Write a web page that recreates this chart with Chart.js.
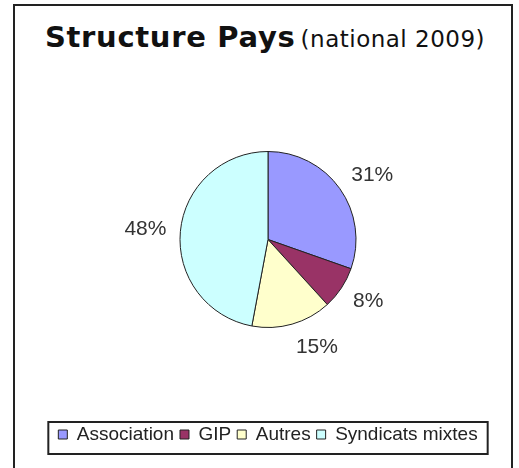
<!DOCTYPE html>
<html>
<head>
<meta charset="utf-8">
<script src="https://cdn.jsdelivr.net/npm/chart.js@4.4.0/dist/chart.umd.min.js"></script>
<style>
  html, body { margin: 0; padding: 0; background: #fff; overflow: hidden; }
  #frame { position: absolute; left: 13px; top: 4px; width: 500px; height: 480px; border: 2px solid #222; box-sizing: border-box; }
  #title { position: absolute; left: 0; top: 20px; width: 530px; text-align: center; white-space: nowrap; color: #111; font-family: "DejaVu Sans", Verdana, sans-serif; }
  #title b { font-size: 29px; letter-spacing: 0.7px; }
  #title span { font-size: 23px; letter-spacing: 0.5px; }
  #myChart { position: absolute; left: 0; top: 0; }
</style>
</head>
<body>
<div id="frame"></div>
<div id="title"><b>Structure Pays</b> <span>(national 2009)</span></div>
<canvas id="myChart" width="519" height="468"></canvas>
<script>
// Données
var categories = ['Association', 'GIP', 'Autres', 'Syndicats mixtes'];
var values = [31, 8, 15, 48];
var percentLabels = ['31%', '8%', '15%', '48%'];
var colors = ['#9999FF', '#993366', '#FFFFCC', '#CCFFFF'];

// Étiquettes de pourcentage autour du camembert
var pctLabels = {
    id: 'pctLabels',
    afterDatasetsDraw: function (chart) {
        var ctx = chart.ctx;
        var meta = chart.getDatasetMeta(0);
        ctx.save();
        ctx.font = '21px "Liberation Sans", Arial, sans-serif';
        ctx.fillStyle = '#333';
        ctx.textAlign = 'center';
        ctx.textBaseline = 'middle';
        meta.data.forEach(function (arc, i) {
            var p = arc.getProps(['x', 'y', 'startAngle', 'endAngle', 'outerRadius'], true);
            var mid = (p.startAngle + p.endAngle) / 2;
            var d = p.outerRadius + 14;
            var hw = ctx.measureText(percentLabels[i]).width / 2;
            var cx = p.x + Math.cos(mid) * d + hw * Math.sign(Math.cos(mid));
            var cy = p.y + Math.sin(mid) * d + 10 * Math.sin(mid);
            ctx.fillText(percentLabels[i], cx, cy);
        });
        ctx.restore();
    }
};

// Cadre autour de la légende
var legendBox = {
    id: 'legendBox',
    afterDraw: function (chart) {
        var boxes = chart.legend.legendHitBoxes;
        if (!boxes || !boxes.length) return;
        var left = Math.min.apply(null, boxes.map(function (b) { return b.left; }));
        var right = Math.max.apply(null, boxes.map(function (b) { return b.left + b.width; }));
        var top = Math.min.apply(null, boxes.map(function (b) { return b.top; }));
        var bottom = Math.max.apply(null, boxes.map(function (b) { return b.top + b.height; }));
        var ctx = chart.ctx;
        ctx.save();
        ctx.strokeStyle = '#222';
        ctx.lineWidth = 2;
        ctx.strokeRect(left - 10, top - 3, right - left + 20, bottom - top + 13);
        ctx.restore();
    }
};

var ctx = document.getElementById('myChart').getContext('2d');
new Chart(ctx, {
    type: 'pie',
    data: {
        labels: categories,
        datasets: [{
            data: values,
            backgroundColor: colors,
            borderColor: '#222',
            borderWidth: 1,
            radius: 88
        }]
    },
    options: {
        responsive: false,
        animation: false,
        layout: { padding: { left: 17, right: 0, top: 60, bottom: 14 } },
        plugins: {
            tooltip: { enabled: false },
            legend: {
                position: 'bottom',
                labels: {
                    boxWidth: 9,
                    boxHeight: 9,
                    padding: 6,
                    color: '#222',
                    font: { family: '"Liberation Sans", Arial, sans-serif', size: 19 }
                }
            }
        }
    },
    plugins: [pctLabels, legendBox]
});
</script>
</body>
</html>
